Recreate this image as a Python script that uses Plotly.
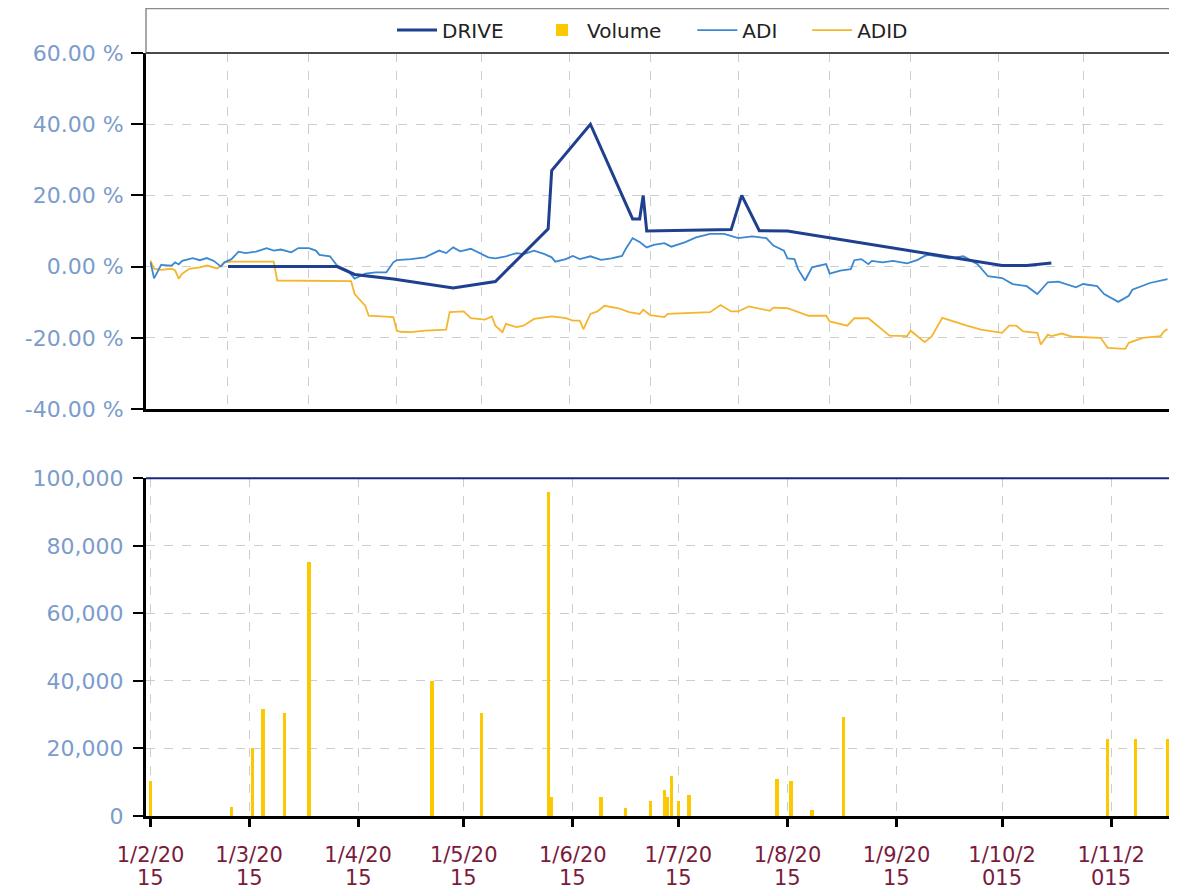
import plotly.graph_objects as go

# ---------------- data ----------------
drive_dates = ["2015-02-23", "2015-03-26", "2015-03-31", "2015-04-11", "2015-04-28",
               "2015-05-10", "2015-05-25", "2015-05-26", "2015-06-06", "2015-06-12",
               "2015-06-18", "2015-06-20", "2015-06-21", "2015-06-22", "2015-07-16",
               "2015-07-19", "2015-07-24", "2015-08-01", "2015-09-09", "2015-09-20",
               "2015-10-01", "2015-10-08", "2015-10-15"]
drive_vals = [0, 0, -2.2, -3.5, -6.0, -4.2, 10.6, 27.0, 40.0, 26.6,
              13.4, 13.4, 20.0, 10.0, 10.4, 20.0, 10.1, 10.0, 3.9, 2.1,
              0.3, 0.3, 1.0]

adi_dates = ["2015-02-01", "2015-02-02", "2015-02-04", "2015-02-07", "2015-02-08", "2015-02-09",
             "2015-02-10", "2015-02-13", "2015-02-15", "2015-02-17", "2015-02-19", "2015-02-21",
             "2015-02-22", "2015-02-24", "2015-02-26", "2015-02-28", "2015-03-03", "2015-03-06",
             "2015-03-08", "2015-03-10", "2015-03-13", "2015-03-15", "2015-03-18", "2015-03-20",
             "2015-03-21", "2015-03-24", "2015-03-26", "2015-03-29", "2015-03-31", "2015-04-03",
             "2015-04-06", "2015-04-09", "2015-04-11", "2015-04-12", "2015-04-16", "2015-04-20",
             "2015-04-24", "2015-04-26", "2015-04-28", "2015-04-30", "2015-05-03", "2015-05-05",
             "2015-05-08", "2015-05-10", "2015-05-13", "2015-05-16", "2015-05-18", "2015-05-21",
             "2015-05-24", "2015-05-26", "2015-05-27", "2015-05-30", "2015-06-01", "2015-06-03",
             "2015-06-06", "2015-06-09", "2015-06-12", "2015-06-15", "2015-06-16", "2015-06-18",
             "2015-06-20", "2015-06-22", "2015-06-24", "2015-06-27", "2015-06-29", "2015-07-03",
             "2015-07-06", "2015-07-10", "2015-07-14", "2015-07-18", "2015-07-22", "2015-07-26",
             "2015-07-28", "2015-07-31", "2015-08-01", "2015-08-03", "2015-08-04", "2015-08-06",
             "2015-08-08", "2015-08-10", "2015-08-12", "2015-08-13", "2015-08-16", "2015-08-19",
             "2015-08-20", "2015-08-22", "2015-08-24", "2015-08-25", "2015-08-28", "2015-08-31",
             "2015-09-04", "2015-09-07", "2015-09-09", "2015-09-10", "2015-09-16", "2015-09-20",
             "2015-09-24", "2015-09-27", "2015-10-01", "2015-10-04", "2015-10-08", "2015-10-11",
             "2015-10-14", "2015-10-17", "2015-10-22", "2015-10-24", "2015-10-28", "2015-10-30",
             "2015-11-03", "2015-11-06", "2015-11-07", "2015-11-12", "2015-11-17"]
adi_vals = [1.2, -3.3, 0.5, 0.3, 1.2, 0.6,
            1.6, 2.4, 1.8, 2.4, 1.6, 0.0,
            1.2, 2.1, 4.2, 3.8, 4.2, 5.2,
            4.5, 4.8, 4.0, 5.2, 5.2, 4.5,
            3.3, 2.9, 0.3, -1.1, -3.4, -2.0,
            -1.6, -1.6, 1.2, 1.8, 2.1, 2.6,
            4.5, 3.8, 5.4, 4.3, 5.0, 4.0,
            2.6, 2.3, 2.9, 3.8, 3.5, 4.5,
            3.5, 2.6, 1.4, 2.1, 3.0, 2.1,
            2.9, 1.9, 2.3, 3.0, 4.9, 8.0,
            6.9, 5.4, 6.1, 6.6, 5.6, 6.9,
            8.2, 9.2, 9.2, 8.0, 8.5, 8.0,
            5.9, 4.5, 2.3, 2.1, -0.7, -3.9,
            -0.2, 0.3, 0.7, -2.0, -1.1, -0.7,
            1.8, 2.1, 0.7, 1.6, 1.2, 1.6,
            0.9, 1.9, 3.0, 3.3, 2.3, 2.9,
            0.7, -2.7, -3.2, -4.9, -5.5, -7.7,
            -4.4, -4.2, -5.8, -4.9, -5.5, -7.7,
            -9.9, -8.2, -6.5, -4.6, -3.5]

adid_dates = ["2015-02-01", "2015-02-02", "2015-02-04", "2015-02-07", "2015-02-08", "2015-02-09",
              "2015-02-10", "2015-02-12", "2015-02-15", "2015-02-17", "2015-02-20", "2015-02-22",
              "2015-02-24", "2015-03-08", "2015-03-09", "2015-03-30", "2015-03-31", "2015-04-03",
              "2015-04-04", "2015-04-09", "2015-04-11", "2015-04-12", "2015-04-13", "2015-04-16",
              "2015-04-20", "2015-04-26", "2015-04-27", "2015-05-01", "2015-05-03", "2015-05-07",
              "2015-05-09", "2015-05-10", "2015-05-12", "2015-05-13", "2015-05-16", "2015-05-18",
              "2015-05-21", "2015-05-26", "2015-05-30", "2015-06-01", "2015-06-03", "2015-06-04",
              "2015-06-06", "2015-06-08", "2015-06-10", "2015-06-14", "2015-06-17", "2015-06-20",
              "2015-06-21", "2015-06-23", "2015-06-27", "2015-06-28", "2015-07-05", "2015-07-10",
              "2015-07-13", "2015-07-16", "2015-07-18", "2015-07-21", "2015-07-27", "2015-07-28",
              "2015-08-01", "2015-08-04", "2015-08-07", "2015-08-12", "2015-08-13", "2015-08-18",
              "2015-08-20", "2015-08-24", "2015-08-27", "2015-08-30", "2015-09-04", "2015-09-05",
              "2015-09-09", "2015-09-11", "2015-09-14", "2015-09-17", "2015-09-21", "2015-09-25",
              "2015-10-01", "2015-10-03", "2015-10-05", "2015-10-07", "2015-10-11", "2015-10-12",
              "2015-10-14", "2015-10-15", "2015-10-18", "2015-10-21", "2015-10-29", "2015-10-31",
              "2015-11-05", "2015-11-06", "2015-11-10", "2015-11-15", "2015-11-16", "2015-11-17"]
adid_vals = [1.7, -0.6, -0.9, -0.6, -1.1, -3.4,
             -2.0, -0.6, -0.2, 0.3, -0.5, 1.2,
             1.4, 1.4, -3.9, -4.1, -7.7, -11.0,
             -13.8, -14.0, -14.2, -18.0, -18.3, -18.4,
             -18.0, -17.7, -12.8, -12.6, -14.5, -14.9,
             -14.0, -16.6, -18.4, -16.1, -17.0, -16.6,
             -14.7, -14.0, -14.5, -15.2, -15.2, -17.6,
             -13.3, -12.6, -11.0, -11.7, -12.8, -13.3,
             -12.1, -13.6, -14.2, -13.3, -13.0, -12.8,
             -10.8, -12.6, -12.6, -11.2, -12.4, -11.5,
             -11.7, -12.8, -13.8, -13.8, -15.4, -16.6,
             -14.5, -14.5, -17.0, -19.4, -19.5, -18.0,
             -21.2, -19.6, -14.4, -15.4, -16.6, -17.7,
             -18.6, -16.6, -16.6, -18.2, -18.6, -21.9,
             -19.1, -19.5, -18.8, -19.7, -20.0, -22.8,
             -23.1, -21.4, -20.0, -19.5, -18.2, -17.5]

volume_dates = ["2015-02-01", "2015-02-24", "2015-03-02", "2015-03-05", "2015-03-11", "2015-03-18",
                "2015-04-22", "2015-05-06", "2015-05-25", "2015-05-26", "2015-06-09", "2015-06-16",
                "2015-06-23", "2015-06-27", "2015-06-28", "2015-06-29", "2015-07-01", "2015-07-04",
                "2015-07-29", "2015-08-02", "2015-08-08", "2015-08-17", "2015-10-31", "2015-11-08",
                "2015-11-17"]
volume_vals = [10200, 2500, 20000, 31500, 30500, 75000,
               39800, 30500, 96000, 5500, 5500, 2300,
               4500, 7700, 5500, 11800, 4500, 6200,
               11000, 10200, 1600, 29200, 22700, 22700,
               22700]

top_grid_dates = ["2015-02-23", "2015-03-18", "2015-04-12", "2015-05-06", "2015-05-31",
                  "2015-06-23", "2015-07-18", "2015-08-13", "2015-09-05", "2015-09-30",
                  "2015-10-24"]
month_ticks = ["2015-02-01", "2015-03-01", "2015-04-01", "2015-05-01", "2015-06-01",
               "2015-07-01", "2015-08-01", "2015-09-01", "2015-10-01", "2015-11-01"]
month_labels_1 = ["1/2/20", "1/3/20", "1/4/20", "1/5/20", "1/6/20",
                  "1/7/20", "1/8/20", "1/9/20", "1/10/2", "1/11/2"]
month_labels_2 = ["15", "15", "15", "15", "15", "15", "15", "15", "015", "015"]
pct_ticks = [-40, -20, 0, 20, 40, 60]
pct_labels = ["-40.00 %", "-20.00 %", "0.00 %", "20.00 %", "40.00 %", "60.00 %"]
vol_ticks = [0, 20000, 40000, 60000, 80000, 100000]
vol_labels = ["0", "20,000", "40,000", "60,000", "80,000", "100,000"]

# ---------------- figure ----------------
FONT = "DejaVu Sans"
C_DRIVE = "#1f3f8f"
C_ADI = "#3a88d0"
C_ADID = "#f5b52e"
C_VOL = "#fcc800"
GRID = "#cdcdcd"
TICKBLUE = "#7b9ccb"
TICKRED = "#7a1b3d"
X_RANGE = ["2015-01-30 17:00", "2015-11-18 00:00"]

fig = go.Figure()

fig.add_trace(go.Scatter(x=adid_dates, y=adid_vals, name="ADID", mode="lines",
                         line=dict(color=C_ADID, width=1.8), legend="legend4",
                         xaxis="x", yaxis="y"))
fig.add_trace(go.Scatter(x=adi_dates, y=adi_vals, name="ADI", mode="lines",
                         line=dict(color=C_ADI, width=1.8), legend="legend3",
                         xaxis="x", yaxis="y"))
fig.add_trace(go.Scatter(x=drive_dates, y=drive_vals, name="DRIVE", mode="lines",
                         line=dict(color=C_DRIVE, width=3), legend="legend",
                         xaxis="x", yaxis="y"))
fig.add_trace(go.Bar(x=volume_dates, y=volume_vals, name="Volume",
                     marker=dict(color=C_VOL, line=dict(width=0)),
                     width=0.95 * 86400000, legend="legend2",
                     xaxis="x2", yaxis="y2"))

top_dom = [0.5334, 1.0]
bot_dom = [0.0, 0.4426]

annotations = [
    dict(x=d, y=-0.0812, xref="x2", yref="paper", text=t, showarrow=False,
         xanchor="center", yanchor="middle",
         font=dict(family=FONT, size=21, color=TICKRED))
    for d, t in zip(month_ticks, month_labels_2)
]


def leg(xpos):
    return dict(orientation="h", x=xpos, xanchor="left", y=1.0301, yanchor="middle",
                font=dict(family=FONT, size=20, color="#222222"),
                bgcolor="rgba(0,0,0,0)", itemwidth=40, borderwidth=0)


fig.update_layout(
    width=1169, height=882,
    margin=dict(l=138, r=6, t=45, b=74, autoexpand=False),
    paper_bgcolor="white", plot_bgcolor="white",
    font=dict(family=FONT),
    showlegend=True,
    bargap=0,
    legend=leg(0.2400),
    legend2=leg(0.3815),
    legend3=leg(0.5330),
    legend4=leg(0.6450),
    xaxis=dict(domain=[0, 1], anchor="y", range=X_RANGE, type="date",
               tickvals=top_grid_dates, showticklabels=False, ticks="",
               showgrid=True, gridcolor=GRID, griddash="dash", gridwidth=1,
               showline=True, linecolor="black", linewidth=3, zeroline=False,
               automargin=False),
    yaxis=dict(domain=top_dom, anchor="x", range=[-40, 60],
               tickvals=pct_ticks, ticktext=pct_labels,
               tickfont=dict(family=FONT, size=22, color=TICKBLUE),
               ticks="outside", ticklen=12, tickwidth=2, tickcolor="black",
               ticklabelstandoff=3, automargin=False,
               showgrid=True, gridcolor=GRID, griddash="dash", gridwidth=1,
               showline=True, linecolor="black", linewidth=3, zeroline=False),
    xaxis2=dict(domain=[0, 1], anchor="y2", range=X_RANGE, type="date",
                tickvals=month_ticks, ticktext=month_labels_1,
                tickfont=dict(family=FONT, size=21, color=TICKRED),
                ticks="outside", ticklen=8, tickwidth=3, tickcolor="black",
                ticklabelstandoff=10, automargin=False,
                showgrid=True, gridcolor=GRID, griddash="dash", gridwidth=1,
                showline=True, linecolor="black", linewidth=3, zeroline=False),
    yaxis2=dict(domain=bot_dom, anchor="x2", range=[0, 100000],
                tickvals=vol_ticks, ticktext=vol_labels,
                tickfont=dict(family=FONT, size=22, color=TICKBLUE),
                ticks="outside", ticklen=10, tickwidth=2, tickcolor="black",
                ticklabelstandoff=5, automargin=False,
                showgrid=True, gridcolor=GRID, griddash="dash", gridwidth=1,
                showline=True, linecolor="black", linewidth=3, zeroline=False),
    annotations=annotations,
    shapes=[
        dict(type="rect", xref="paper", yref="paper", x0=0, x1=1, y0=1.0, y1=1.0583,
             line=dict(color="#8c8c8c", width=1.5), fillcolor="rgba(0,0,0,0)", layer="above"),
        dict(type="line", xref="paper", yref="y domain", x0=0, x1=1, y0=1, y1=1,
             line=dict(color="#4a4a4a", width=2), layer="above"),
        dict(type="line", xref="paper", yref="y domain", x0=1, x1=1, y0=0, y1=1,
             line=dict(color="#2f6fbf", width=2), layer="above"),
        dict(type="line", xref="paper", yref="y2 domain", x0=0, x1=1, y0=1, y1=1,
             line=dict(color="#1b2a80", width=2), layer="above"),
        dict(type="line", xref="paper", yref="y2 domain", x0=1, x1=1, y0=0, y1=1,
             line=dict(color="#1b2a80", width=2), layer="above"),
    ],
)

fig.write_html("out.html")
